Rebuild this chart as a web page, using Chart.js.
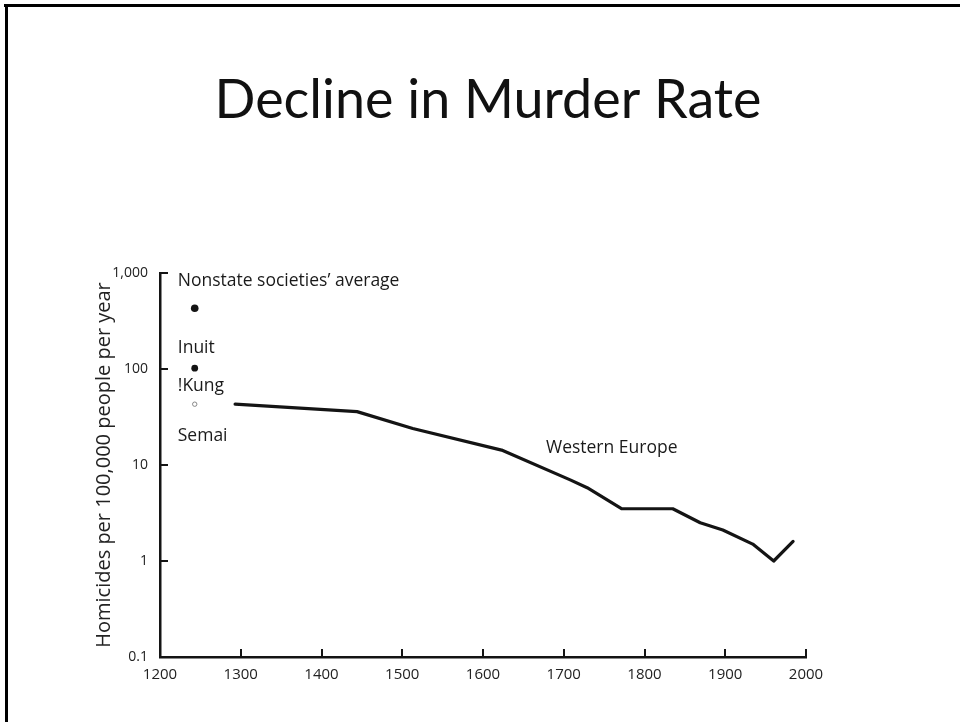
<!DOCTYPE html>
<html>
<head>
<meta charset="utf-8">
<script src="https://cdn.jsdelivr.net/npm/chart.js@4.4.1/dist/chart.umd.min.js"></script>
<style>
  html, body { margin: 0; padding: 0; background: #fff; }
  #wrap { position: relative; width: 960px; height: 722px; }
  canvas { display: block; }
</style>
</head>
<body>
<div id="wrap"><canvas id="c" width="960" height="722"></canvas></div>
<script>
// ---------- data ----------
const chartTitle = 'Decline in Murder Rate';
const yAxisTitle = 'Homicides per 100,000 people per year';
const xTickValues = [1200, 1300, 1400, 1500, 1600, 1700, 1800, 1900, 2000];
const yTickValues = [0.1, 1, 10, 100, 1000];
const yTickLabels = ['0.1', '1', '10', '100', '1,000'];

const westernEuropeYears = [1293, 1444, 1513, 1623, 1708, 1729, 1772, 1835, 1869, 1897, 1934, 1960, 1984];
const westernEuropeRates = [43, 36, 24, 14.3, 7.0, 5.8, 3.5, 3.5, 2.5, 2.1, 1.5, 1.0, 1.6];

const societyNames = ['Nonstate societies\u2019 average', 'Inuit', '!Kung'];
const societyYears = [1243, 1243, 1243];
const societyRates = [430, 102, 43];

// text annotations: text, anchor year, anchor rate (left edge / vertical middle)
const noteTexts = ['Nonstate societies\u2019 average', 'Inuit', '!Kung', 'Semai', 'Western Europe'];
const noteYears = [1222, 1222, 1222, 1222, 1678];
const noteRates = [826, 165, 66, 20, 15];

// ---------- styles ----------
const INK = '#141414';
const LABEL_FONT = '"Open Sans", "Noto Sans", sans-serif';

const slidePlugin = {
  id: 'slide',
  beforeDraw(chart) {
    const ctx = chart.ctx;
    ctx.save();
    ctx.fillStyle = '#fff';
    ctx.fillRect(0, 0, chart.width, chart.height);
    ctx.fillStyle = '#000';
    ctx.fillRect(4, 4, chart.width - 4, 3);
    ctx.fillRect(5, 4, 3, chart.height - 4);
    // title
    let size = 52;
    ctx.font = size + 'px Lato, "Open Sans", sans-serif';
    const w = ctx.measureText(chartTitle).width;
    size = size * 547 / w;
    ctx.font = size + 'px Lato, "Open Sans", sans-serif';
    ctx.fillStyle = '#111';
    ctx.textAlign = 'center';
    ctx.textBaseline = 'alphabetic';
    ctx.fillText(chartTitle, 488, 118);
    ctx.restore();
  },
  afterDraw(chart) {
    const ctx = chart.ctx;
    const xs = chart.scales.x, ys = chart.scales.y;
    const area = chart.chartArea;
    ctx.save();
    ctx.strokeStyle = INK;
    ctx.lineWidth = 2;
    ctx.lineCap = 'butt';
    yTickValues.forEach(v => {
      if (v === ys.min) return;
      const py = Math.round(ys.getPixelForValue(v));
      ctx.beginPath();
      ctx.moveTo(area.left, py);
      ctx.lineTo(area.left + 8, py);
      ctx.stroke();
    });
    xTickValues.forEach(v => {
      if (v === xs.min) return;
      const px = Math.round(xs.getPixelForValue(v));
      ctx.beginPath();
      ctx.moveTo(px, area.bottom);
      ctx.lineTo(px, area.bottom - 8);
      ctx.stroke();
    });
    // annotations
    ctx.fillStyle = '#1a1a1a';
    ctx.font = '17.5px ' + LABEL_FONT;
    ctx.textAlign = 'left';
    ctx.textBaseline = 'middle';
    noteTexts.forEach((t, i) => {
      ctx.fillText(t, xs.getPixelForValue(noteYears[i]), ys.getPixelForValue(noteRates[i]));
    });
    ctx.restore();
  }
};

new Chart(document.getElementById('c'), {
  type: 'line',
  data: {
    datasets: [
      {
        label: 'Western Europe',
        data: westernEuropeYears.map((yr, i) => ({ x: yr, y: westernEuropeRates[i] })),
        borderColor: INK,
        borderWidth: 3.2,
        borderJoinStyle: 'round',
        borderCapStyle: 'round',
        pointRadius: 0,
        tension: 0,
        fill: false
      },
      {
        type: 'scatter',
        label: 'Nonstate societies',
        data: societyYears.map((yr, i) => ({ x: yr, y: societyRates[i], name: societyNames[i] })),
        pointRadius: [3.8, 3.4, 2.2],
        pointBackgroundColor: [INK, INK, '#ffffff'],
        pointBorderColor: [INK, INK, '#888'],
        pointBorderWidth: [0, 0, 1],
        showLine: false
      }
    ]
  },
  options: {
    responsive: false,
    animation: false,
    layout: { padding: { left: 0, top: 273, right: 154, bottom: 35 } },
    plugins: {
      legend: { display: false },
      tooltip: { enabled: false },
      title: { display: false }
    },
    scales: {
      x: {
        type: 'linear',
        min: 1200,
        max: 2000,
        afterBuildTicks: s => { s.ticks = xTickValues.map(v => ({ value: v })); },
        ticks: {
          callback: v => String(v),
          color: '#222',
          font: { family: LABEL_FONT, size: 15 },
          padding: 9,
          maxRotation: 0,
          autoSkip: false
        },
        grid: { display: false, drawTicks: false },
        border: { display: true, color: INK, width: 2.5 },
        afterFit: s => { s.height = 30; }
      },
      y: {
        type: 'logarithmic',
        min: 0.1,
        max: 1000,
        afterBuildTicks: s => { s.ticks = yTickValues.map(v => ({ value: v })); },
        ticks: {
          callback: v => yTickLabels[yTickValues.indexOf(v)] ?? '',
          color: '#222',
          font: { family: LABEL_FONT, size: 14 },
          padding: 12,
          autoSkip: false
        },
        grid: { display: false, drawTicks: false },
        border: { display: true, color: INK, width: 2.5 },
        title: {
          display: true,
          text: yAxisTitle,
          color: '#222',
          font: { family: LABEL_FONT, size: 20 },
          padding: { top: 92, bottom: 0 }
        },
        afterFit: s => { s.width = 160; }
      }
    }
  },
  plugins: [slidePlugin]
});
</script>
</body>
</html>
